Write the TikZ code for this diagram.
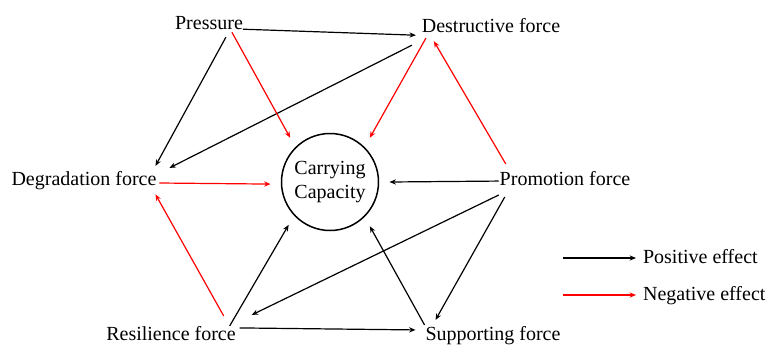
\documentclass[tikz,border=0pt]{standalone}
\usepackage{fontspec}
\setmainfont{Liberation Serif}
\usetikzlibrary{arrows.meta}

\begin{document}
\begin{tikzpicture}[x=0.5pt,y=0.5pt,>={Stealth[length=3.2pt,width=2.6pt]},
    force/.style={inner sep=0pt,outer sep=0pt,anchor=base},
    poseff/.style={black,line width=0.6pt,->},
    negeff/.style={red,line width=0.6pt,->}]
                \useasboundingbox(0,0)rectangle(769,345);
                % Forces
                \node[force](pres)at(209,316){Pressure};
                \node[force](dest)at(491,313){Destructive force};
                \node[force](degr)at(84,160){Degradation force};
                \node[force](prom)at(565,160){Promotion force};
                \node[force](resi)at(171,5){Resilience force};
                \node[force](supp)at(493,5){Supporting force};
                % Carrying capacity
                \node[circle,draw,line width=0.75pt,minimum size=48.5pt,inner sep=0pt,outer sep=5.5pt,align=center](cc)at(330,163){Carrying\\Capacity};
                % Positive effects
                \draw[poseff](pres.south east)--([shift={(-6,-3)}]dest.south west);
                \draw[poseff]([shift={(-17,-8)}]pres.south east)--([shift={(-1,5)}]degr.north east);
                \draw[poseff]([shift={(-10,-13)}]dest.south west)--([shift={(13,3)}]degr.north east);
                \draw[poseff]([shift={(-1,-3)}]prom.west)--(cc.0);
                \draw[poseff]([shift={(-1,-10)}]prom.base west)--([shift={(16,11)}]resi.north east);
                \draw[poseff]([shift={(5,-12)}]prom.base west)--([shift={(10,6)}]supp.north west);
                \draw[poseff]([shift={(-6,0)}]resi.north east)--(cc.226);
                \draw[poseff]([shift={(4,-2)}]resi.north east)--([shift={(-10,-4)}]supp.north west);
                \draw[poseff]([shift={(-1,1)}]supp.north west)--(cc.-48);
                % Negative effects
                \draw[negeff]([shift={(-11,-3)}]pres.south east)--(cc.132);
                \draw[negeff]([shift={(4,-6)}]dest.south west)--(cc.48);
                \draw[negeff]([shift={(6,7)}]prom.north west)--([shift={(12,-9)}]dest.south west);
                \draw[negeff]([shift={(3,2)}]degr.base east)--(cc.182);
                \draw[negeff]([shift={(-12,10)}]resi.north east)--([shift={(-1,-5)}]degr.south east);
                % Legend
                \coordinate(posl)at(563,87);
                \coordinate(negl)at(563,50);
                \node[anchor=base west](post)at(636,82){Positive effect};
                \node[anchor=base west](negt)at(636,45){Negative effect};
                \draw[poseff](posl)--(posl-|post.west);
                \draw[negeff](negl)--(negl-|negt.west);
\end{tikzpicture}
\end{document}
